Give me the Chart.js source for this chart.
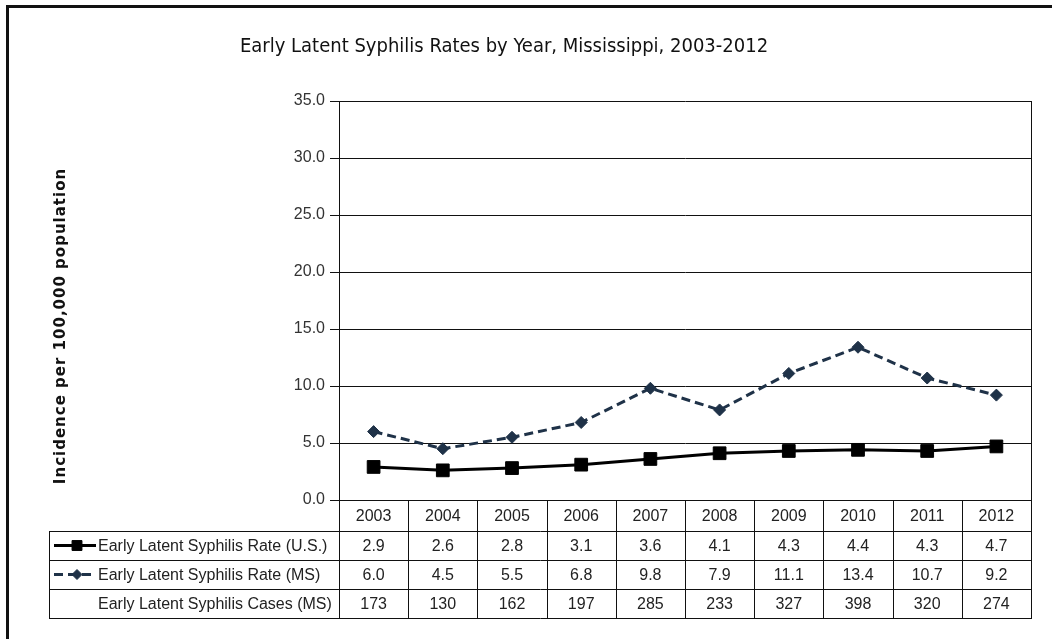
<!DOCTYPE html>
<html>
<head>
<meta charset="utf-8">
<script src="https://cdn.jsdelivr.net/npm/chart.js@4.4.1/dist/chart.umd.min.js"></script>
<style>
    html, body { margin: 0; padding: 0; background: #fff; }
    #wrap { width: 1052px; height: 639px; position: relative; }
</style>
</head>
<body>
<div id="wrap"><canvas id="chart" width="1052" height="639"></canvas></div>
<script>
// Chart data
const years = ['2003', '2004', '2005', '2006', '2007', '2008', '2009', '2010', '2011', '2012'];
const usRate = [2.9, 2.6, 2.8, 3.1, 3.6, 4.1, 4.3, 4.4, 4.3, 4.7];
const msRate = [6.0, 4.5, 5.5, 6.8, 9.8, 7.9, 11.1, 13.4, 10.7, 9.2];
const msCases = [173, 130, 162, 197, 285, 233, 327, 398, 320, 274];
const rowNames = [
    'Early Latent Syphilis Rate (U.S.)',
    'Early Latent Syphilis Rate (MS)',
    'Early Latent Syphilis Cases (MS)'
];
const chartTitle = 'Early Latent Syphilis Rates by Year, Mississippi, 2003-2012';
const yTitle = 'Incidence per 100,000 population';

const FONT = "'Liberation Sans', Arial, sans-serif";
const TITLE_FONT = "'Liberation Sans Narrow', 'DejaVu Sans Condensed', 'Liberation Sans', sans-serif";

// Frame, title, y title and data table drawn on the canvas
const tablePlugin = {
    id: 'dataTable',
    beforeDraw(chart) {
        const ctx = chart.ctx;
        ctx.save();
        ctx.fillStyle = '#fff';
        ctx.fillRect(0, 0, chart.width, chart.height);
        // outer frame (left and top)
        ctx.strokeStyle = '#111';
        ctx.lineWidth = 3;
        ctx.beginPath();
        ctx.moveTo(7.5, chart.height);
        ctx.lineTo(7.5, 6.5);
        ctx.lineTo(chart.width, 6.5);
        ctx.stroke();
        ctx.restore();
    },
    afterDraw(chart) {
        const ctx = chart.ctx;
        const ca = chart.chartArea;
        const xs = chart.scales.x;
        const colW = (ca.right - ca.left) / years.length;
        const tableLeft = 49;
        const rows = [ca.bottom, ca.bottom + 31, ca.bottom + 60, ca.bottom + 89, ca.bottom + 118];
        const px = v => Math.round(v) + 0.5;

        ctx.save();
        ctx.strokeStyle = '#111';
        ctx.lineWidth = 1;
        ctx.beginPath();
        // right border of plot
        ctx.moveTo(px(ca.right), ca.top);
        ctx.lineTo(px(ca.right), ca.bottom);
        // horizontal table lines
        for (let r = 1; r < rows.length; r++) {
            ctx.moveTo(tableLeft, px(rows[r]));
            ctx.lineTo(px(ca.right) + 0.5, px(rows[r]));
        }
        // vertical table lines
        ctx.moveTo(px(tableLeft), px(rows[1]));
        ctx.lineTo(px(tableLeft), px(rows[4]));
        for (let i = 0; i <= years.length; i++) {
            const x = px(ca.left + i * colW);
            ctx.moveTo(x, rows[0]);
            ctx.lineTo(x, px(rows[4]));
        }
        ctx.stroke();

        // cell text
        ctx.fillStyle = '#222';
        ctx.font = '16px ' + FONT;
        ctx.textAlign = 'center';
        ctx.textBaseline = 'middle';
        const tableRows = [
            years,
            usRate.map(v => v.toFixed(1)),
            msRate.map(v => v.toFixed(1)),
            msCases.map(v => String(v))
        ];
        tableRows.forEach((vals, r) => {
            const cy = (rows[r] + rows[r + 1]) / 2 + 1;
            vals.forEach((t, i) => {
                ctx.fillText(t, xs.getPixelForValue(i), cy);
            });
        });

        // row labels with legend samples
        ctx.textAlign = 'left';
        ctx.font = '16px ' + FONT;
        rowNames.forEach((name, r) => {
            const cy = (rows[r + 1] + rows[r + 2]) / 2;
            ctx.fillText(name, 98, cy + 1);
            const ds = chart.data.datasets[r];
            if (!ds) return;
            ctx.save();
            ctx.strokeStyle = ds.borderColor;
            ctx.fillStyle = ds.backgroundColor;
            ctx.lineWidth = ds.borderWidth;
            ctx.setLineDash(ds.borderDash || []);
            ctx.beginPath();
            ctx.moveTo(54, cy);
            ctx.lineTo(96, cy);
            ctx.stroke();
            ctx.setLineDash([]);
            ctx.lineWidth = 1;
            Chart.helpers.drawPoint(ctx, {
                pointStyle: ds.pointStyle,
                radius: ds.pointStyle === 'rect' ? 7 : 5,
                rotation: 0,
                borderWidth: 1
            }, 77, cy);
            ctx.restore();
        });

        // chart title
        ctx.fillStyle = '#111';
        ctx.textAlign = 'center';
        ctx.font = '20px ' + TITLE_FONT;
        ctx.fillText(chartTitle, 504, 47);

        // y axis title
        ctx.save();
        ctx.translate(61, 326);
        ctx.rotate(-Math.PI / 2);
        ctx.font = "bold 15px 'DejaVu Sans', sans-serif";
        ctx.letterSpacing = '1px';
        ctx.fillText(yTitle, 0, 0);
        ctx.restore();

        ctx.restore();
    }
};

const ctx = document.getElementById('chart').getContext('2d');
new Chart(ctx, {
    type: 'line',
    data: {
        labels: years,
        datasets: [{
            label: rowNames[0],
            data: usRate,
            borderColor: '#000',
            backgroundColor: '#000',
            borderWidth: 3,
            pointStyle: 'rect',
            pointRadius: 9,
            pointBorderWidth: 1,
            tension: 0
        }, {
            label: rowNames[1],
            data: msRate,
            borderColor: '#1f3248',
            backgroundColor: '#1f3248',
            borderWidth: 3,
            borderDash: [9, 5],
            pointStyle: 'rectRot',
            pointRadius: 6,
            pointBorderWidth: 1,
            tension: 0
        }]
    },
    options: {
        responsive: false,
        animation: false,
        devicePixelRatio: 1,
        layout: {
            padding: { left: 40, right: 21, top: 101, bottom: 139 }
        },
        plugins: {
            legend: { display: false },
            title: { display: false },
            tooltip: { enabled: false }
        },
        scales: {
            x: {
                type: 'category',
                offset: true,
                display: false
            },
            y: {
                min: 0,
                max: 35,
                afterFit: (scale) => { scale.width = 299; },
                ticks: {
                    stepSize: 5,
                    padding: 5,
                    color: '#333',
                    font: { family: FONT, size: 16 },
                    callback: (v) => v.toFixed(1)
                },
                grid: {
                    color: '#111',
                    lineWidth: 1,
                    tickLength: 9,
                    drawTicks: true
                },
                border: { color: '#111', width: 1 }
            }
        }
    },
    plugins: [tablePlugin]
});
</script>
</body>
</html>
